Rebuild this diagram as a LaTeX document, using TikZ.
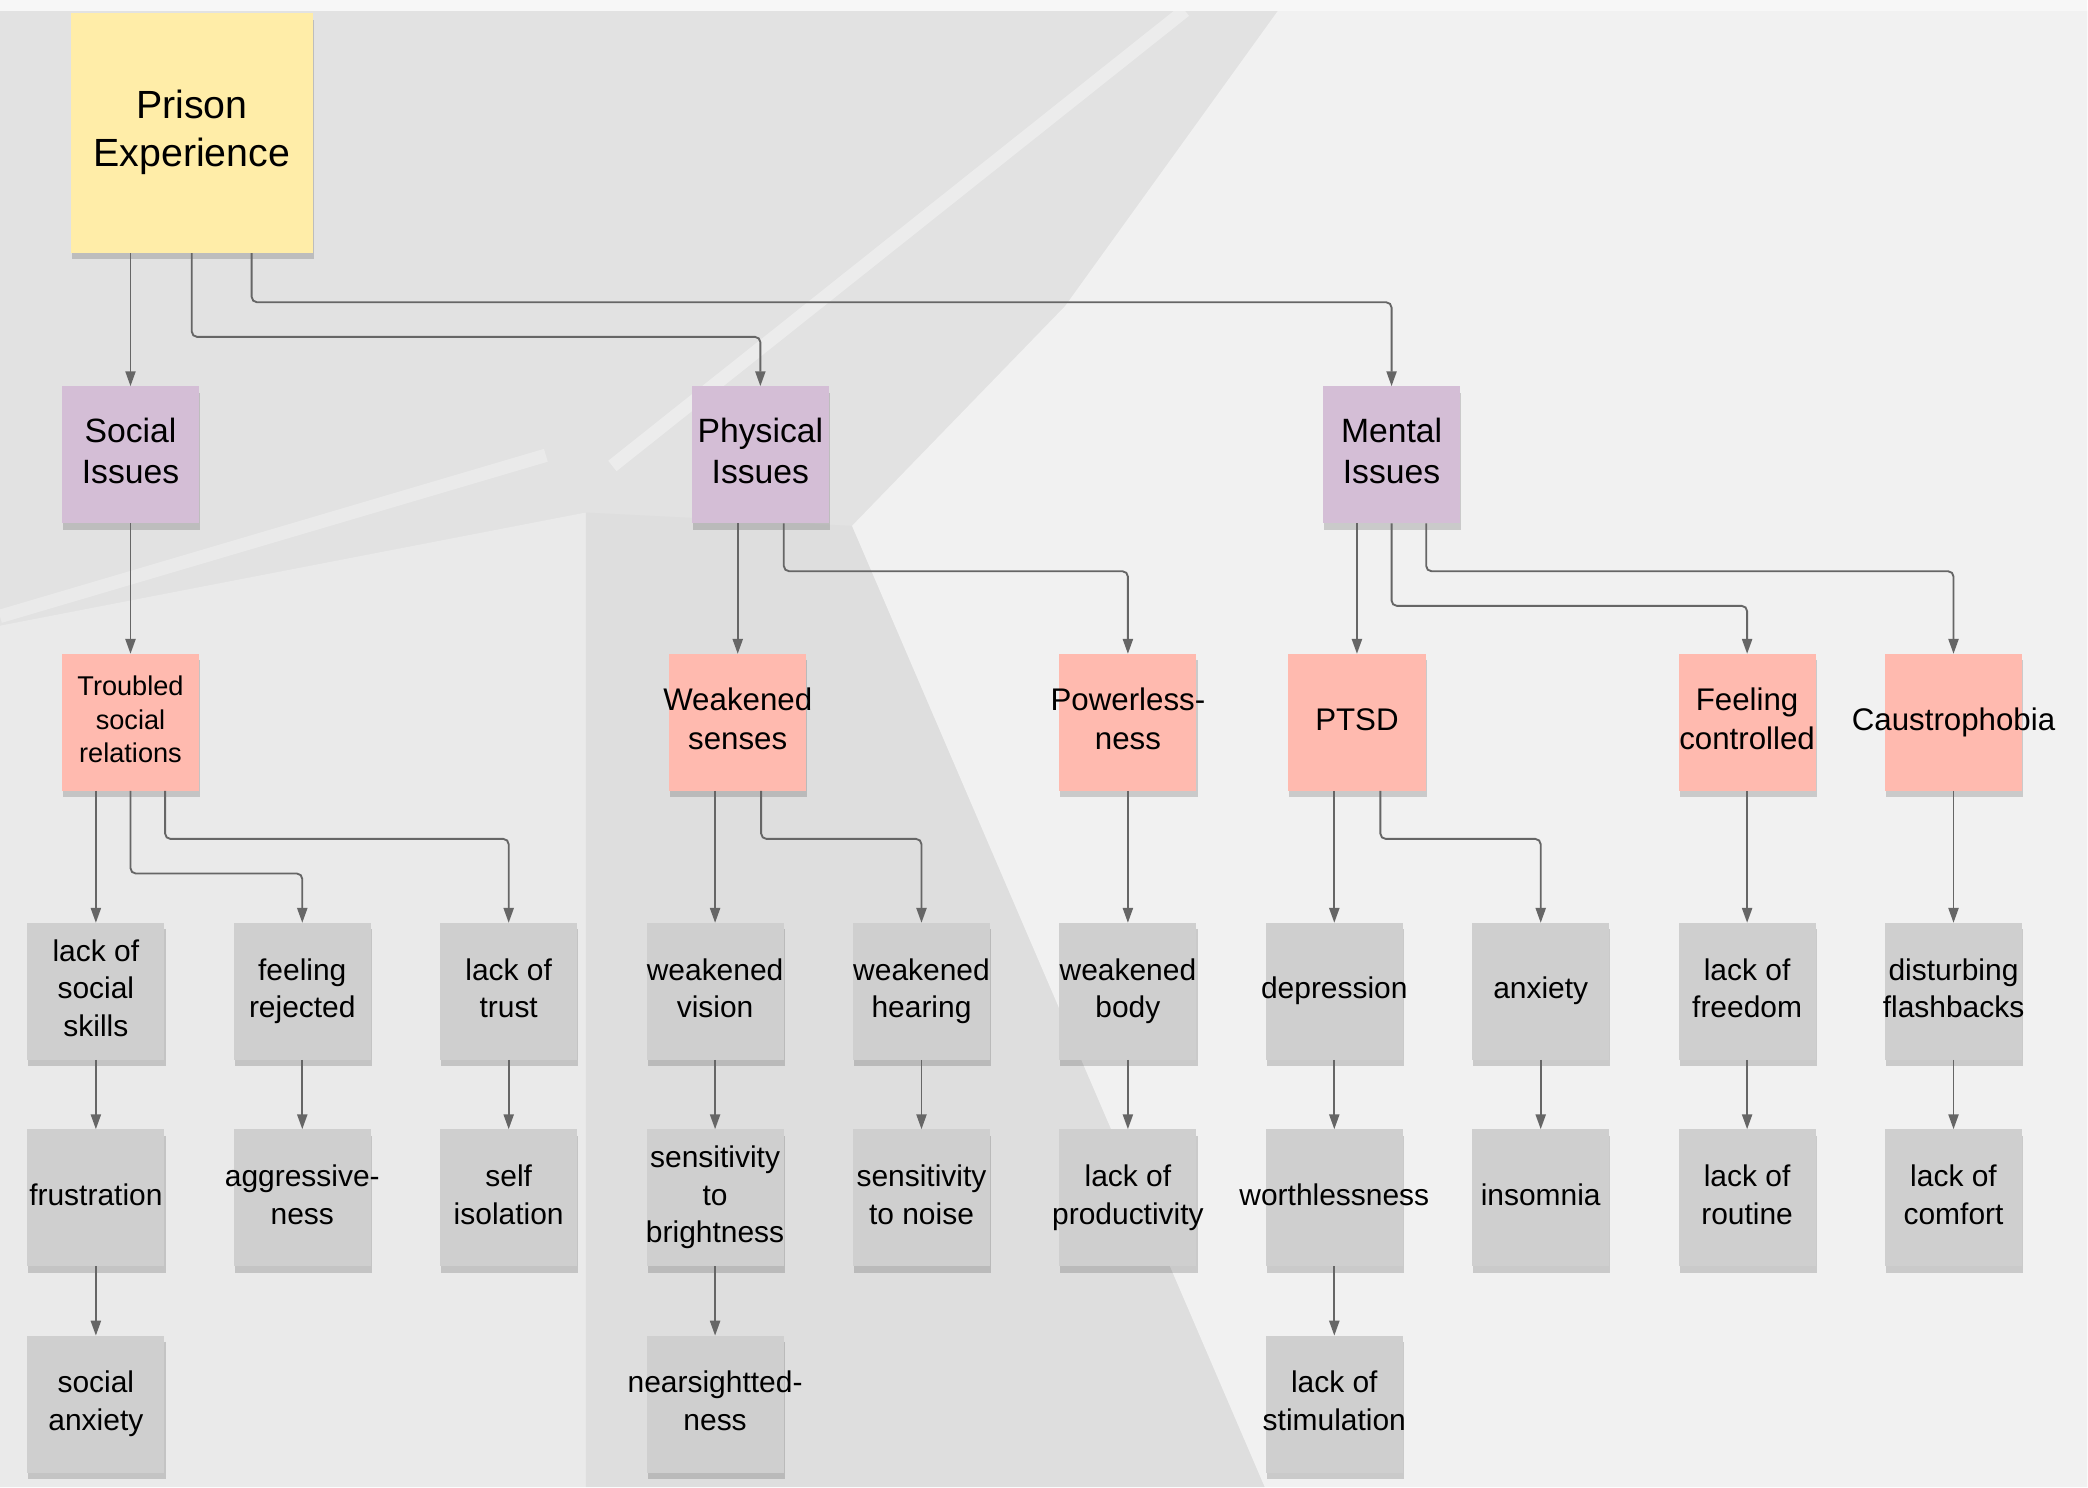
\documentclass[tikz,border=0pt]{standalone}
\usepackage{fontspec}
\setmainfont{Liberation Sans}
\usetikzlibrary{arrows.meta,positioning,shadows}
\definecolor{NoteYellow}{RGB}{255,237,168}
\definecolor{NotePurple}{RGB}{212,190,214}
\definecolor{NoteSalmon}{RGB}{255,186,175}
\definecolor{NoteGray}{RGB}{207,207,207}
\definecolor{LineGray}{RGB}{102,102,102}
\definecolor{WallBase}{RGB}{226,226,226}
\definecolor{WallDark}{RGB}{222,222,222}
\definecolor{WallLight}{RGB}{241,241,241}
\definecolor{WallPale}{RGB}{234,234,234}
\newcommand{\lbl}[1]{\makebox[0pt]{\begin{tabular}{@{}c@{}}#1\end{tabular}}}
\tikzset{
  note/.style={inner sep=0pt,outer sep=0pt,minimum width=2.575cm,
    minimum height=2.575cm,
    drop shadow={shadow xshift=0.02cm,shadow yshift=-0.12cm,opacity=0.16,fill=black}},
  topic/.style={note,fill=NoteYellow,minimum width=4.55cm,minimum height=4.5cm,
    font=\fontsize{21}{25.5}\selectfont},
  issue/.style={note,fill=NotePurple,font=\fontsize{18}{22}\selectfont},
  cause/.style={note,fill=NoteSalmon,font=\fontsize{16.7}{20.5}\selectfont},
  effect/.style={note,fill=NoteGray,font=\fontsize{16}{20}\selectfont},
  conn/.style={-{Triangle[length=0.28cm,width=0.19cm]},line width=1pt,
    draw=LineGray,rounded corners=0.1cm}
}

\begin{document}
\begin{tikzpicture}[node distance=1.3cm]

\useasboundingbox (0,0) rectangle (39.2,-27.925);

% background
\begin{scope}[x=0.025cm,y=-0.025cm]
  \fill[WallBase] (0,0) rectangle (1568,1117);
  \fill[WallPale] (0,470) -- (440,385) -- (440,1117) -- (0,1117) -- cycle;
  \fill[WallDark] (440,385) -- (640,395) -- (950,1117) -- (440,1117) -- cycle;
  \fill[WallLight] (960,8) -- (1568,8) -- (1568,1117) -- (950,1117)
    -- (640,395) -- (800,230) -- cycle;
  \draw[white,opacity=0.35,line width=0.25cm] (890,8) -- (460,350);
  \draw[white,opacity=0.3,line width=0.25cm] (0,463) -- (410,342);
  \fill[white!97!black] (0,0) rectangle (1568,8);
\end{scope}

% third row
\node[effect] (lss) at (1.8,-18.6125) {\lbl{lack of\\social\\skills}};
\node[effect,right=of lss] (frej) {\lbl{feeling\\rejected}};
\node[effect,right=of frej] (ltr) {\lbl{lack of\\trust}};
\node[effect,right=of ltr] (wvis) {\lbl{weakened\\vision}};
\node[effect,right=of wvis] (whear) {\lbl{weakened\\hearing}};
\node[effect,right=of whear] (wbody) {\lbl{weakened\\body}};
\node[effect,right=of wbody] (dep) {\lbl{depression}};
\node[effect,right=of dep] (anx) {\lbl{anxiety}};
\node[effect,right=of anx] (lfree) {\lbl{lack of\\freedom}};
\node[effect,right=of lfree] (dflash) {\lbl{disturbing\\flashbacks}};

% fourth row
\node[effect,below=of lss] (frus) {\lbl{frustration}};
\node[effect,below=of frej] (aggr) {\lbl{aggressive-\\ness}};
\node[effect,below=of ltr] (siso) {\lbl{self\\isolation}};
\node[effect,below=of wvis] (sbri) {\lbl{sensitivity\\to\\brightness}};
\node[effect,below=of whear] (snoi) {\lbl{sensitivity\\to noise}};
\node[effect,below=of wbody] (lprod) {\lbl{lack of\\productivity}};
\node[effect,below=of dep] (worth) {\lbl{worthlessness}};
\node[effect,below=of anx] (insom) {\lbl{insomnia}};
\node[effect,below=of lfree] (lrout) {\lbl{lack of\\routine}};
\node[effect,below=of dflash] (lcomf) {\lbl{lack of\\comfort}};

% fifth row
\node[effect,below=of frus] (sanx) {\lbl{social\\anxiety}};
\node[effect,below=of sbri] (nsight) {\lbl{nearsightted-\\ness}};
\node[effect,below=of worth] (lstim) {\lbl{lack of\\stimulation}};

% causes
\node[cause,above=2.475cm of lss,xshift=0.65cm,font=\fontsize{14.5}{17.8}\selectfont]
  (tsr) {\lbl{Troubled\\social\\relations}};
\node[cause,above=2.475cm of wvis,xshift=0.425cm] (ws) {\lbl{Weakened\\senses}};
\node[cause,above=2.475cm of wbody] (pw) {\lbl{Powerless-\\ness}};
\node[cause,above=2.475cm of dep,xshift=0.425cm] (ptsd) {\lbl{PTSD}};
\node[cause,above=2.475cm of lfree] (fc) {\lbl{Feeling\\controlled}};
\node[cause,above=2.475cm of dflash] (cl) {\lbl{Caustrophobia}};

% issues
\node[issue,above=2.45cm of tsr] (si) {\lbl{Social\\Issues}};
\node[issue,above=2.45cm of ws,xshift=0.425cm] (pi) {\lbl{Physical\\Issues}};
\node[issue,above=2.45cm of ptsd,xshift=0.65cm] (mi) {\lbl{Mental\\Issues}};

\node[topic,above=2.5cm of si,xshift=1.15cm] (pe) {\lbl{Prison\\Experience}};

% straight drops
\foreach \a/\b in {pe/si,si/tsr,pi/ws,mi/ptsd,tsr/lss,ws/wvis,pw/wbody,
  ptsd/dep,fc/lfree,cl/dflash}
  \draw[conn] (\b.north |- \a.south) -- (\b.north);

% elbow connectors
\foreach \a/\s/\d/\b in {pe/0/1.575/pi,pe/1.125/0.925/mi,pi/0.44/0.9/pw,
  mi/0/1.55/fc,mi/0.65/0.9/cl,tsr/0/1.55/frej,tsr/0.65/0.9/ltr,
  ws/0.44/0.9/whear,ptsd/0.44/0.9/anx}
  \draw[conn] ([xshift=\s cm]\a.south) -- ++(0,-\d) -| (\b.north);

% rows below
\foreach \a/\b in {lss/frus,frej/aggr,ltr/siso,wvis/sbri,whear/snoi,
  wbody/lprod,dep/worth,anx/insom,lfree/lrout,dflash/lcomf,
  frus/sanx,sbri/nsight,worth/lstim}
  \draw[conn] (\a.south) -- (\b.north);

\end{tikzpicture}
\end{document}
